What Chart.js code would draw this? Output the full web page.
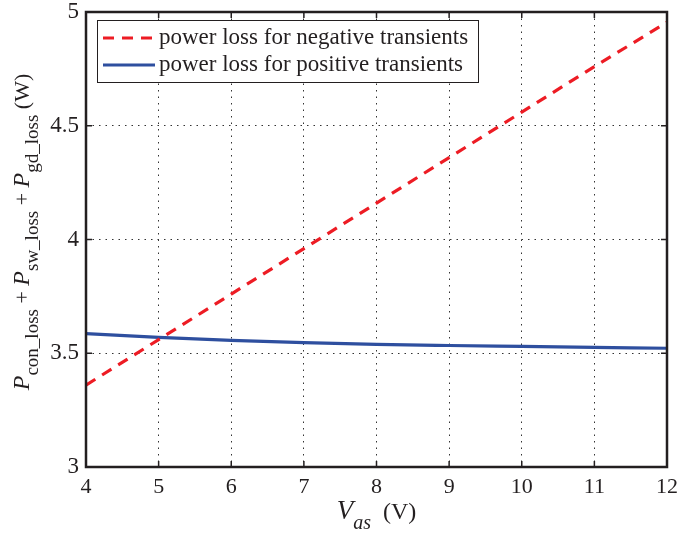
<!DOCTYPE html>
<html>
<head>
<meta charset="utf-8">
<script src="https://cdn.jsdelivr.net/npm/chart.js@4/dist/chart.umd.min.js"></script>
<style>
  html, body { margin: 0; padding: 0; background: #fff; }
  #wrap { width: 678px; height: 534px; }
</style>
</head>
<body>
<div id="wrap"><canvas id="grafica"></canvas></div>
<script>
// Datos
const vas = [4, 5, 6, 7, 8, 9, 10, 11, 12];
const perdidaNegativa = [3.36, 3.56, 3.76, 3.96, 4.16, 4.36, 4.56, 4.76, 4.955];
const perdidaPositiva = [3.586, 3.570, 3.557, 3.547, 3.539, 3.534, 3.530, 3.526, 3.522];
const etiquetas = ['power loss for negative transients', 'power loss for positive transients'];

const FUENTE = '"Liberation Serif", "DejaVu Serif", serif';
const NEGRO = '#231f20';

// ── MARCO, TICKS HACIA DENTRO, LEYENDA Y TÍTULOS ─────────────
const marco = {
    id: 'marco',
    afterDatasetsDraw(chart) {
        const { ctx, chartArea: a, scales: { x, y } } = chart;
        ctx.save();
        ctx.strokeStyle = NEGRO;
        ctx.lineWidth = 2.5;
        ctx.strokeRect(a.left, a.top, a.right - a.left, a.bottom - a.top);

        ctx.lineWidth = 1.5;
        ctx.beginPath();
        x.ticks.forEach((t, i) => {
            const px = x.getPixelForTick(i);
            ctx.moveTo(px, a.bottom); ctx.lineTo(px, a.bottom - 6);
            ctx.moveTo(px, a.top);    ctx.lineTo(px, a.top + 6);
        });
        y.ticks.forEach((t, i) => {
            const py = y.getPixelForTick(i);
            ctx.moveTo(a.left, py);  ctx.lineTo(a.left + 6, py);
            ctx.moveTo(a.right, py); ctx.lineTo(a.right - 6, py);
        });
        ctx.stroke();

        // leyenda
        const bx = 97, by = 20, bw = 381, bh = 62;
        ctx.fillStyle = '#fff';
        ctx.fillRect(bx, by, bw, bh);
        ctx.lineWidth = 1;
        ctx.strokeStyle = NEGRO;
        ctx.strokeRect(bx + 0.5, by + 0.5, bw, bh);
        chart.data.datasets.forEach((ds, i) => {
            const ly = 38 + i * 27;
            ctx.beginPath();
            ctx.strokeStyle = ds.borderColor;
            ctx.lineWidth = ds.borderWidth;
            ctx.setLineDash(ds.borderDash || []);
            ctx.moveTo(103, ly); ctx.lineTo(155, ly);
            ctx.stroke();
            ctx.setLineDash([]);
            ctx.fillStyle = NEGRO;
            ctx.font = '23px ' + FUENTE;
            ctx.textBaseline = 'middle';
            ctx.textAlign = 'left';
            ctx.fillText(ds.label, 159, ly);
        });
        ctx.restore();
    },
    afterDraw(chart) {
        const { ctx, chartArea: a } = chart;
        ctx.save();
        ctx.fillStyle = NEGRO;
        ctx.textBaseline = 'alphabetic';

        // título eje x: V_as (V)
        const partesX = [
            { t: 'V', f: 'italic 27px ' + FUENTE, d: 0 },
            { t: 'as', f: 'italic 20px ' + FUENTE, d: 10 },
            { t: '  (V)', f: '24px ' + FUENTE, d: 0 }
        ];
        dibujarPartes(ctx, partesX, (a.left + a.right) / 2 + 0, 519);

        // título eje y
        const partesY = [
            { t: 'P', f: 'italic 24px ' + FUENTE, d: 0 },
            { t: 'con_loss', f: '19px ' + FUENTE, d: 9 },
            { t: ' + ', f: '22px ' + FUENTE, d: 0 },
            { t: 'P', f: 'italic 24px ' + FUENTE, d: 0 },
            { t: 'sw_loss', f: '19px ' + FUENTE, d: 9 },
            { t: ' + ', f: '22px ' + FUENTE, d: 0 },
            { t: 'P', f: 'italic 24px ' + FUENTE, d: 0 },
            { t: 'gd_loss', f: '19px ' + FUENTE, d: 9 },
            { t: ' (W)', f: '22px ' + FUENTE, d: 0 }
        ];
        ctx.translate(29, 232);
        ctx.rotate(-Math.PI / 2);
        dibujarPartes(ctx, partesY, 0, 0);
        ctx.restore();
    }
};

function dibujarPartes(ctx, partes, cx, base) {
    let total = 0;
    partes.forEach(p => { ctx.font = p.f; p.w = ctx.measureText(p.t).width; total += p.w; });
    let px = cx - total / 2;
    partes.forEach(p => {
        ctx.font = p.f;
        ctx.textAlign = 'left';
        ctx.fillText(p.t, px, base + p.d);
        px += p.w;
    });
}

new Chart(document.getElementById('grafica'), {
    type: 'line',
    data: {
        datasets: [
            {
                label: etiquetas[0],
                data: vas.map((v, i) => ({ x: v, y: perdidaNegativa[i] })),
                borderColor: '#ed1c24',
                borderWidth: 3.2,
                borderDash: [11, 8],
                pointRadius: 0,
                tension: 0
            },
            {
                label: etiquetas[1],
                data: vas.map((v, i) => ({ x: v, y: perdidaPositiva[i] })),
                borderColor: '#2e4f9f',
                borderWidth: 3.2,
                pointRadius: 0,
                cubicInterpolationMode: 'monotone'
            }
        ]
    },
    options: {
        responsive: true,
        maintainAspectRatio: false,
        animation: false,
        layout: { padding: { top: 12, right: 11, left: 0, bottom: 0 } },
        plugins: { legend: { display: false }, tooltip: { enabled: false } },
        scales: {
            x: {
                type: 'linear',
                min: 4, max: 12,
                ticks: { stepSize: 1, color: NEGRO, font: { family: FUENTE, size: 22 }, padding: 7, maxRotation: 0 },
                grid: { color: '#333', lineWidth: 1, drawTicks: false },
                border: { display: false, dash: [1.5, 5] },
                afterFit: s => { s.height = 67; s.paddingLeft = 0; s.paddingRight = 0; }
            },
            y: {
                min: 3, max: 5,
                ticks: {
                    stepSize: 0.5, color: NEGRO, font: { family: FUENTE, size: 23 }, padding: 7,
                    callback: v => String(v)
                },
                grid: { color: '#333', lineWidth: 1, drawTicks: false },
                border: { display: false, dash: [1.5, 5] },
                afterFit: s => { s.width = 86; s.paddingTop = 0; s.paddingBottom = 0; }
            }
        }
    },
    plugins: [marco]
});
</script>
</body>
</html>
